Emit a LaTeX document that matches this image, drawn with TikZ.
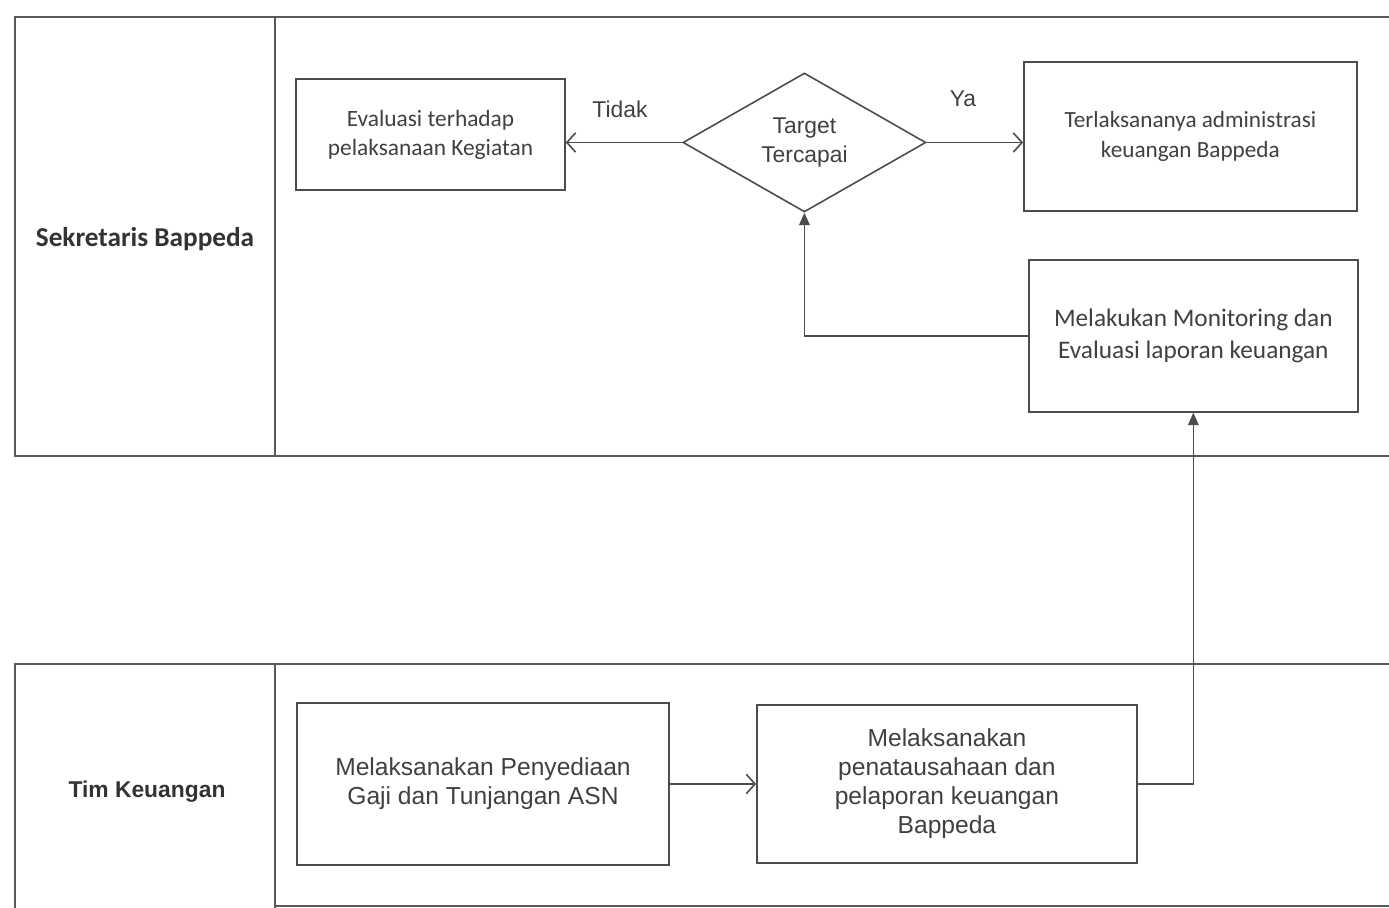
\documentclass[tikz,border=0pt]{standalone}
\usepackage{fontspec}
\setmainfont{Liberation Sans}
\newfontfamily\carlito{Carlito}
\usepackage{tikz}
\usetikzlibrary{arrows.meta,positioning,shapes.geometric}

\begin{document}
\begin{tikzpicture}[x=0.02cm,y=-0.02cm,on grid,auto]
  \tikzstyle{lane}=[draw=black!65,line width=0.9pt]
  \tikzstyle{lanelabel}=[text=black!80,inner sep=0pt]
  \tikzstyle{box}=[draw=black!70,line width=0.9pt,text=black!75,align=center,inner sep=0pt]
  \tikzstyle{smallbox}=[box,font=\carlito\fontsize{13.3}{16.5}\selectfont]
  \tikzstyle{bigbox}=[box,font=\fontsize{14}{16.5}\selectfont]
  \tikzstyle{decision}=[box,diamond,shape aspect=1.75,minimum width=4.86cm,minimum height=2.78cm,font=\fontsize{13}{16.5}\selectfont]
  \tikzstyle{flow}=[draw=black!70,line width=0.9pt,font=\fontsize{13}{16}\selectfont,text=black!75]
  \tikzstyle{openarrow}=[flow,-{Straight Barb[length=5pt,width=11pt]}]
  \tikzstyle{fillarrow}=[flow,-{Triangle[length=7pt,width=6pt]}]

  \useasboundingbox (0,0) rectangle (1389,908);

  % swimlanes
  \draw[lane] (1389,17) -- (15,17) -- (15,456) -- (1389,456);
  \draw[lane] (275,17) -- (275,456);
  \draw[lane] (1389,664) -- (15,664) -- (15,908);
  \draw[lane] (275,664) -- (275,908);
  \draw[lane] (275,906) -- (1389,906);

  \node[lanelabel,font=\carlito\bfseries\fontsize{15.5}{18}\selectfont] (sekretaris) at (145,239) {Sekretaris Bappeda};
  \node[lanelabel,font=\bfseries\fontsize{13}{16}\selectfont] (tim) at (147,792) {Tim Keuangan};

  % Sekretaris Bappeda
  \node[smallbox,minimum width=5.38cm,minimum height=2.22cm] (evaluasi) at (430.5,134.5) {Evaluasi terhadap\\pelaksanaan Kegiatan};
  \node[decision] (target) [right of=evaluasi,node distance=7.48cm,yshift=-0.16cm] {Target\\Tercapai};
  \node[smallbox,minimum width=6.66cm,minimum height=2.98cm,font=\carlito\fontsize{13.2}{17}\selectfont] (terlaksana) [right of=evaluasi,node distance=15.2cm,yshift=-0.04cm] {Terlaksananya administrasi\\keuangan Bappeda};
  \node[smallbox,minimum width=6.58cm,minimum height=3.04cm,font=\carlito\fontsize{14.4}{18.2}\selectfont] (monitor) [below of=terlaksana,node distance=3.99cm,xshift=0.06cm] {Melakukan Monitoring dan\\Evaluasi laporan keuangan};

  % Tim Keuangan
  \node[bigbox,minimum width=7.44cm,minimum height=3.24cm] (gaji) at (483,784) {Melaksanakan Penyediaan\\Gaji dan Tunjangan ASN};
  \node[bigbox,minimum width=7.6cm,minimum height=3.16cm] (lapor) [right of=gaji,node distance=9.28cm] {Melaksanakan\\penatausahaan dan\\pelaporan keuangan\\Bappeda};

  \draw[openarrow] (target.west) -- node[above=0.36cm,xshift=-0.08cm] {Tidak} (target.west -| evaluasi.east);
  \draw[openarrow] (target.east) -- node[above=0.58cm,xshift=-0.24cm] {Ya} (target.east -| terlaksana.west);
  \path[openarrow] (gaji) edge (lapor);

  \draw[fillarrow] (monitor.west) -| (target.south);
  \draw[fillarrow] (lapor.east) -| (monitor.south);
\end{tikzpicture}
\end{document}
